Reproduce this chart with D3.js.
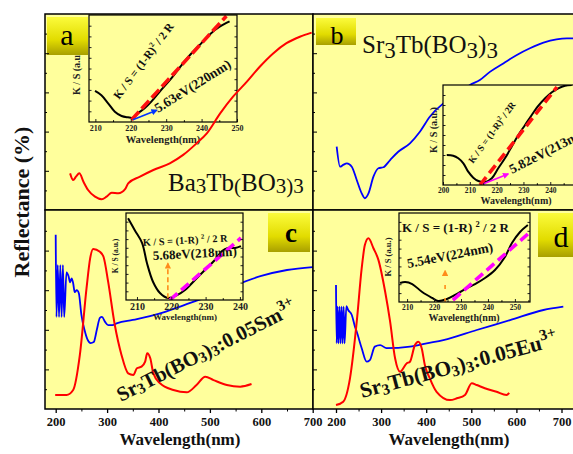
<!DOCTYPE html>
<html>
<head>
<meta charset="utf-8">
<script src="https://cdn.jsdelivr.net/npm/d3@7"></script>
<style>
  body { margin: 0; background: #fff; }
  svg { display: block; font-family: "Liberation Serif", "Times New Roman", serif; }
</style>
</head>
<body>
<svg id="chart" width="573" height="454"></svg>
<script>
// Main reflectance curves (wavelength nm / reflectance %).
var aRedNm = [228, 234, 239.5, 246, 254, 263, 276.5, 289.5, 299, 309, 322, 335, 341, 364, 390, 422, 448, 474, 494, 520, 545, 572, 597, 623, 649, 675, 698];
var aRedR = [18.7, 15.3, 17, 18.7, 14.4, 10.2, 6.8, 5.5, 6.8, 8.8, 8.5, 10.6, 13.6, 17, 20.4, 23.8, 28.1, 34, 39.1, 49.3, 57.8, 65.5, 73.1, 79.9, 85.1, 88.4, 90.5];

var bBlueNm = [201.5, 209, 216, 224, 235, 246, 257, 264, 272, 283, 294, 305, 320, 338, 364, 386, 408, 438, 468, 497, 519, 542, 571, 601, 630, 660, 689, 712, 726];
var bBlueR = [32.3, 22.1, 23, 23.8, 22.1, 15.3, 8.5, 6, 8.5, 17, 21.3, 21.8, 25.5, 29.7, 34, 39.9, 47.6, 54.4, 58.7, 63.8, 66.3, 70.6, 74.8, 79.1, 82.5, 85.4, 87.1, 87.6, 87.6];

var cBlueNm = [200, 201.5, 204, 206.5, 209, 211.5, 214, 216.5, 221, 225, 228, 231, 234, 237, 241, 245, 250, 256, 262, 268, 274, 280, 286, 290, 296, 302, 310, 320, 350, 400, 450, 500, 550, 600, 650, 700];
var cBlueR = [88, 46.5, 72.7, 46.5, 72.7, 46.5, 72.7, 46.5, 69, 67, 64, 66, 63.5, 59, 60, 58.5, 47.5, 40, 35, 33.3, 33.8, 40, 46, 46.5, 44, 42.4, 42.4, 43.4, 45, 48, 52.5, 57.1, 62.6, 67.2, 70.2, 71.7];
var cRedNm = [199, 221, 234, 247, 260, 267, 273, 286, 293, 302, 315, 328, 341, 351, 358, 367, 374, 378, 384, 390, 403, 429, 455, 474, 491, 507, 533, 559, 581];
var cRedR = [7.1, 7.1, 9.6, 27.3, 61, 76.1, 80.8, 79.4, 76.9, 64.3, 42.4, 27.3, 18, 17.2, 20.6, 21.4, 23.9, 28.1, 25.6, 18, 13, 9.6, 8.4, 12.1, 16.3, 14.6, 12.1, 11.3, 12.6];

var dBlueNm = [200, 201.5, 203.5, 205.5, 208, 210, 212.5, 214.5, 217, 219, 223, 227, 235, 242, 246, 257, 268, 275, 286, 298, 312, 364, 401, 438, 512, 586, 660, 704];
var dBlueR = [62.6, 33.2, 51.7, 33.2, 51.7, 33.2, 51.7, 33.2, 51.7, 33.2, 52, 50, 47.5, 41.6, 39, 30.7, 23.9, 24.7, 31.5, 32.3, 30.7, 31.5, 33.2, 34.8, 39.9, 44.9, 50, 51.7];
var dRedNm = [200, 216, 231, 246, 257, 264, 272, 283, 294, 309, 320, 331, 342, 357, 364, 375, 382.5, 390, 397, 408, 423, 453, 468, 486, 501, 512, 530, 556, 578, 584];
var dRedR = [2, 3.7, 15.5, 44.1, 71.1, 82.8, 86.2, 81.2, 75.3, 59.2, 44.1, 25.6, 18.8, 23.1, 23.9, 32.3, 34, 30.7, 22.2, 15.5, 8.7, 4.5, 5.4, 7.1, 13, 12.1, 10.5, 8.7, 7.1, 8.2];

// Inset K/S curves and linear fits.
var aKsNm = [209.9, 211.7, 213.6, 215.5, 217.4, 219.2, 220.6, 222, 223.9, 225.8, 228.6, 231.5, 234.3, 237.1, 239.9, 242.7, 245.1, 247.9];
var aKs = [0.29, 0.25, 0.175, 0.096, 0.056, 0.044, 0.04, 0.081, 0.128, 0.19, 0.3, 0.41, 0.53, 0.64, 0.735, 0.83, 0.89, 0.94];
var aFitNm = [220.2, 247], aFitKs = [0.02, 0.99];

var bKsNm = [201.4, 203.8, 205.7, 207.6, 209.4, 211.3, 213.2, 215.7, 218.2, 220.6, 223.1, 225.6, 228.1, 230.6, 233.1, 235.6, 238.1, 240.6, 243, 245.5, 248];
var bKs = [0.3, 0.293, 0.267, 0.217, 0.133, 0.073, 0.04, 0.027, 0.067, 0.167, 0.267, 0.383, 0.5, 0.6, 0.7, 0.793, 0.867, 0.927, 0.967, 0.993, 1];
var bFitNm = [213.8, 242.5], bFitKs = [0, 0.98];

var cKsNm = [207.4, 209.4, 211.5, 212.9, 214.7, 216.7, 219, 221.7, 224, 226.9, 229.8, 232.7, 234.8, 236.5, 238.6, 240.3];
var cKs = [0.94, 0.8, 0.655, 0.425, 0.207, 0.08, 0.023, 0.057, 0.115, 0.23, 0.345, 0.46, 0.563, 0.598, 0.598, 0.62];
var cFitNm = [219.6, 240.3], cFitKs = [0, 0.713];

var dKsNm = [207.4, 209.3, 211.9, 215.6, 219.3, 221.5, 224.8, 227.8, 231.5, 235.2, 238.9, 242.6, 246.3, 248.9, 251.9, 254.8];
var dKs = [0.213, 0.225, 0.202, 0.112, 0.045, 0.011, 0.034, 0.079, 0.146, 0.202, 0.27, 0.36, 0.506, 0.663, 0.787, 0.865];
var dFitNm = [227, 254.8], dFitKs = [0.022, 0.764];

// Tick labels.
var mainTicks = [200, 300, 400, 500, 600, 700];
var mainMinor = [250, 350, 450, 550, 650];
var aTicks = [210, 220, 230, 240, 250];
var bTicks = [200, 210, 220, 230, 240];
var cTicks = [210, 220, 230, 240];
var dTicks = [210, 220, 230, 240, 250];

var YELLOW = '#ffff9c';
var svg = d3.select('#chart');
var defs = svg.append('defs');

// Olive-yellow gradient of the panel tags.
var grad = defs.append('linearGradient')
  .attr('id', 'tag')
  .attr('x1', 0).attr('y1', 0)
  .attr('x2', 0).attr('y2', 1);
grad.append('stop').attr('offset', '0%').attr('stop-color', '#fbfb3c');
grad.append('stop').attr('offset', '60%').attr('stop-color', '#e2dc00');
grad.append('stop').attr('offset', '100%').attr('stop-color', '#a89f00');

function marker(id, color) {
  defs.append('marker')
    .attr('id', id)
    .attr('viewBox', '0 0 10 10')
    .attr('refX', 8).attr('refY', 5)
    .attr('markerWidth', 4).attr('markerHeight', 4)
    .attr('markerUnits', 'strokeWidth')
    .attr('orient', 'auto')
    .append('path')
    .attr('d', 'M0,0 L10,5 L0,10 z')
    .attr('fill', color);
}
marker('arBlue', '#0033ff');
marker('arPink', '#ff00ff');
marker('arOrange', '#ff8c1a');

// Scales of the four panels.
var xAC = d3.scaleLinear().domain([200, 700]).range([55.7, 312.7]);
var xBD = d3.scaleLinear().domain([200, 700]).range([336, 561.5]);
var yTop = d3.scaleLinear().domain([0, 100]).range([210, 14]);
var yBot = d3.scaleLinear().domain([0, 100]).range([409, 211]);

var panels = {
  a: { x0: 45, x1: 313, y0: 14, y1: 210, x: xAC, y: yTop },
  b: { x0: 313, x1: 575, y0: 14, y1: 210, x: xBD, y: yTop },
  c: { x0: 45, x1: 313, y0: 210, y1: 409, x: xAC, y: yBot },
  d: { x0: 313, x1: 575, y0: 210, y1: 409, x: xBD, y: yBot }
};

function rows(xs, ys) {
  return xs.map(function (v, i) { return [v, ys[i]]; });
}

function curve(g, p, xs, ys, color, width) {
  var line = d3.line()
    .x(function (d) { return p.x(d[0]); })
    .y(function (d) { return p.y(d[1]); })
    .curve(d3.curveMonotoneX);
  g.append('path')
    .attr('d', line(rows(xs, ys)))
    .attr('fill', 'none')
    .attr('stroke', color)
    .attr('stroke-width', width || 2)
    .attr('stroke-linejoin', 'round')
    .attr('clip-path', 'url(#clip-' + p.key + ')');
}

// Text with sub / superscript parts: [text, 'sub'|'sup'|null].
function formula(g, x, y, angle, parts, size, small, shift, bold) {
  var t = g.append('text')
    .attr('transform', 'translate(' + x + ',' + y + ') rotate(' + angle + ')')
    .attr('font-size', size)
    .attr('font-weight', bold ? 'bold' : 'normal')
    .attr('fill', '#111');
  var cur = 0;
  parts.forEach(function (part) {
    var off = part[1] === 'sub' ? shift : part[1] === 'sup' ? -size * 0.42 : 0;
    t.append('tspan')
      .attr('dy', off - cur)
      .attr('font-size', part[1] ? small : size)
      .text(part[0]);
    cur = off;
  });
  return t;
}

function tag(g, x, y, w, h, letter, tx, ty, size, bold) {
  g.append('rect')
    .attr('x', x).attr('y', y)
    .attr('width', w).attr('height', h)
    .attr('fill', 'url(#tag)');
  g.append('text')
    .attr('x', tx).attr('y', ty)
    .attr('text-anchor', 'middle')
    .attr('font-size', size)
    .attr('font-weight', bold ? 'bold' : 'normal')
    .text(letter);
}

// Background and clip for each panel.
Object.keys(panels).forEach(function (k) {
  var p = panels[k];
  p.key = k;
  defs.append('clipPath').attr('id', 'clip-' + k)
    .append('rect')
    .attr('x', p.x0).attr('y', p.y0)
    .attr('width', p.x1 - p.x0).attr('height', p.y1 - p.y0);
  p.g = svg.append('g');
  p.g.append('rect')
    .attr('x', p.x0).attr('y', p.y0)
    .attr('width', p.x1 - p.x0).attr('height', p.y1 - p.y0)
    .attr('fill', YELLOW);
});

// Inset with K/S curve.
function inset(g, o) {
  var x = d3.scaleLinear().domain(o.domain).range([o.x0, o.x1]);
  var y = d3.scaleLinear().domain([0, 1]).range([o.y1, o.y0]);
  var id = 'ins-' + o.key;
  defs.append('clipPath').attr('id', id)
    .append('rect')
    .attr('x', o.x0).attr('y', o.y0)
    .attr('width', o.x1 - o.x0).attr('height', o.y1 - o.y0);

  g.append('rect')
    .attr('x', o.x0).attr('y', o.y0)
    .attr('width', o.x1 - o.x0).attr('height', o.y1 - o.y0)
    .attr('fill', YELLOW);

  var line = d3.line()
    .x(function (d) { return x(d[0]); })
    .y(function (d) { return y(d[1]); });

  g.append('path')
    .attr('d', line.curve(d3.curveCatmullRom)(rows(o.nm, o.ks)))
    .attr('fill', 'none')
    .attr('stroke', '#000')
    .attr('stroke-width', 2)
    .attr('clip-path', 'url(#' + id + ')');

  g.append('path')
    .attr('d', line.curve(d3.curveLinear)(rows(o.fitNm, o.fitKs)))
    .attr('stroke', o.fitColor)
    .attr('stroke-width', 3.6)
    .attr('stroke-dasharray', o.dash)
    .attr('clip-path', 'url(#' + id + ')');

  // Onset arrow.
  g.append('line')
    .attr('x1', x(o.arrow[0])).attr('y1', y(o.arrow[1]))
    .attr('x2', x(o.arrow[2])).attr('y2', y(o.arrow[3]))
    .attr('stroke', o.arrowColor)
    .attr('stroke-width', 1.6)
    .attr('stroke-dasharray', o.arrowDash || null)
    .attr('marker-end', 'url(#' + o.arrowId + ')');

  // Axes: ticks inside the box.
  var bottom = g.append('g')
    .attr('transform', 'translate(0,' + o.y1 + ')')
    .call(d3.axisBottom(x).tickValues(o.ticks).tickSize(-3).tickPadding(3));
  bottom.select('.domain').remove();
  bottom.selectAll('text')
    .attr('font-family', 'Liberation Serif')
    .attr('font-weight', 'bold')
    .attr('font-size', o.tickSize)
    .attr('fill', '#222');
  bottom.selectAll('line').attr('stroke', '#222');

  var minor = o.ticks.map(function (v) { return v + 5; })
    .filter(function (v) { return v < o.domain[1]; });
  g.append('g')
    .attr('transform', 'translate(0,' + o.y1 + ')')
    .call(d3.axisBottom(x).tickValues(minor).tickSize(-1.8).tickFormat(''))
    .select('.domain').remove();

  var ks = d3.range(0.1, 1, 0.1);
  [o.x0, o.x1].forEach(function (px, i) {
    var ax = g.append('g')
      .attr('transform', 'translate(' + px + ',0)')
      .call((i ? d3.axisLeft(y) : d3.axisRight(y)).tickValues(ks).tickSize(2.5).tickFormat(''));
    ax.select('.domain').remove();
    ax.selectAll('line').attr('stroke', '#222');
  });

  g.append('rect')
    .attr('x', o.x0).attr('y', o.y0)
    .attr('width', o.x1 - o.x0).attr('height', o.y1 - o.y0)
    .attr('fill', 'none')
    .attr('stroke', '#000')
    .attr('stroke-width', 1.2);

  g.append('text')
    .attr('x', o.xl[0]).attr('y', o.xl[1])
    .attr('text-anchor', 'middle')
    .attr('font-size', o.xl[2])
    .attr('font-weight', 'bold')
    .attr('fill', '#222')
    .text('Wavelength(nm)');

  g.append('text')
    .attr('transform', 'translate(' + o.yl[0] + ',' + o.yl[1] + ') rotate(-90)')
    .attr('text-anchor', 'middle')
    .attr('font-size', o.yl[2])
    .attr('font-weight', 'bold')
    .attr('fill', '#222')
    .text('K / S (a.u.)');

  var f = o.ksLabel;
  formula(g, f[0], f[1], f[2], [['K / S = (1-R)' + f[4], null], ['2', 'sup'], [' / 2' + f[5], null]], f[3], f[3] * 0.65, 0, true);
  var e = o.evLabel;
  g.append('text')
    .attr('transform', 'translate(' + e[0] + ',' + e[1] + ') rotate(' + e[2] + ')')
    .attr('font-size', e[3])
    .attr('font-weight', 'bold')
    .attr('fill', '#111')
    .text(e[4]);
}

// Panel a.
var pa = panels.a;
inset(pa.g, {
  key: 'a', x0: 89, x1: 237, y0: 15, y1: 122, domain: [208.2, 250],
  nm: aKsNm, ks: aKs, fitNm: aFitNm, fitKs: aFitKs, fitColor: '#ff1010', dash: '11,4',
  arrow: [220.6, 0.02, 227.3, 0.11], arrowColor: '#0033ff', arrowId: 'arBlue',
  ticks: aTicks, tickSize: 8,
  xl: [163, 143, 10.5], yl: [80, 72, 10],
  ksLabel: [119, 100, -53, 11.5, '', ' R'],
  evLabel: [158, 113, -32, 13.5, '5.63eV(220nm)']
});
curve(pa.g, pa, aRedNm, aRedR, '#ff0000', 2);
tag(pa.g, 47, 17, 41, 38, 'a', 67, 45, 30);
formula(pa.g, 168, 191, 0, [['Ba', null], ['3', 'sub'], ['Tb', null], ['(', 'sub'], ['BO', null], ['3', 'sub'], [')3', 'sub']], 25, 21, 2, false);

// Panel b.
var pb = panels.b;
curve(pb.g, pb, bBlueNm, bBlueR, '#0000ff', 1.8);
inset(pb.g, {
  key: 'b', x0: 443, x1: 576, y0: 85, y1: 185, domain: [200, 249.6],
  nm: bKsNm, ks: bKs, fitNm: bFitNm, fitKs: bFitKs, fitColor: '#ff1010', dash: '10,5',
  arrow: [214.9, 0.01, 224.3, 0.11], arrowColor: '#ff00ff', arrowId: 'arPink',
  ticks: bTicks, tickSize: 7.5,
  xl: [516, 204, 10], yl: [437, 130, 10],
  ksLabel: [473, 164, -54, 9.5, '', 'R'],
  evLabel: [512, 174, -27, 13.5, '5.82eV(213nm)']
});
tag(pb.g, 316, 18, 40, 27, 'b', 337, 44, 26);
formula(pb.g, 362, 53, 0, [['Sr', null], ['3', 'sub'], ['Tb(BO', null], ['3', 'sub'], [')', null], ['3', 'sub']], 25, 23, 5, false);

// Panel c.
var pc = panels.c;
curve(pc.g, pc, cBlueNm, cBlueR, '#0000ff', 1.8);
curve(pc.g, pc, cRedNm, cRedR, '#ff0000', 2);
inset(pc.g, {
  key: 'c', x0: 126, x1: 243, y0: 213, y1: 300, domain: [206.8, 240.9],
  nm: cKsNm, ks: cKs, fitNm: cFitNm, fitKs: cFitKs, fitColor: '#ff00ff', dash: '10,5',
  arrow: [219, 0.02, 219, 0.42], arrowColor: '#ff8c1a', arrowId: 'arOrange', arrowDash: '5,3',
  ticks: cTicks, tickSize: 10,
  xl: [185, 320, 9], yl: [118, 256, 7.5],
  ksLabel: [143, 246, -3, 10.3, ' ', ' R'],
  evLabel: [153, 260, -3, 13, '5.68eV(218nm)']
});
tag(pc.g, 268, 213, 42, 39, 'c', 291, 242, 27, true);
formula(pc.g, 121, 402, -27, [['Sr', null], ['3', 'sub'], ['Tb(BO', null], ['3', 'sub'], [')', null], ['3', 'sub'], [':0.05Sm', null], ['3+', 'sup']], 20.5, 15, 2, true);

// Panel d.
var pd = panels.d;
curve(pd.g, pd, dBlueNm, dBlueR, '#0000ff', 1.8);
curve(pd.g, pd, dRedNm, dRedR, '#ff0000', 2);
inset(pd.g, {
  key: 'd', x0: 399, x1: 530, y0: 213, y1: 302, domain: [207, 255.6],
  nm: dKsNm, ks: dKs, fitNm: dFitNm, fitKs: dFitKs, fitColor: '#ff00ff', dash: '10,5',
  arrow: [224.1, 0.0, 224.1, 0.35], arrowColor: '#ff8c1a', arrowId: 'arOrange', arrowDash: '4,9',
  ticks: dTicks, tickSize: 7.5,
  xl: [464, 321, 10], yl: [391, 257, 8.5],
  ksLabel: [402, 232, 0, 13, ' ', ' R'],
  evLabel: [408, 268, -11, 13.5, '5.54eV(224nm)']
});
tag(pd.g, 538, 213, 40, 44, 'd', 561, 247, 30);
formula(pd.g, 362, 398, -15, [['Sr', null], ['3', 'sub'], ['Tb(BO', null], ['3', 'sub'], [')', null], ['3', 'sub'], [':0.05Eu', null], ['3+', 'sup']], 21.5, 15.5, 3, true);

// Frames, left ticks and bottom axes.
Object.keys(panels).forEach(function (k) {
  var p = panels[k];
  [[[20, 40, 60, 80], 4], [[10, 30, 50, 70, 90], 2]].forEach(function (t) {
    var ax = p.g.append('g')
      .attr('transform', 'translate(' + p.x0 + ',0)')
      .call(d3.axisRight(p.y).tickValues(t[0]).tickSize(t[1]).tickFormat(''));
    ax.select('.domain').remove();
  });
  p.g.append('rect')
    .attr('x', p.x0).attr('y', p.y0)
    .attr('width', p.x1 - p.x0).attr('height', p.y1 - p.y0)
    .attr('fill', 'none')
    .attr('stroke', '#000')
    .attr('stroke-width', 1.5);
});

['c', 'd'].forEach(function (k) {
  var p = panels[k];
  var ax = svg.append('g')
    .attr('transform', 'translate(0,' + p.y1 + ')')
    .call(d3.axisBottom(p.x).tickValues(mainTicks).tickSize(4).tickPadding(4));
  ax.select('.domain').remove();
  ax.selectAll('line').attr('stroke-width', 1.3);
  ax.selectAll('text')
    .attr('font-family', 'Liberation Serif')
    .attr('font-weight', 'bold')
    .attr('font-size', 12.5)
    .attr('fill', '#111');
  svg.append('g')
    .attr('transform', 'translate(0,' + p.y1 + ')')
    .call(d3.axisBottom(p.x).tickValues(mainMinor).tickSize(2.5).tickFormat(''))
    .select('.domain').remove();
});

// Axis titles.
svg.append('text')
  .attr('x', 180).attr('y', 445)
  .attr('text-anchor', 'middle')
  .attr('font-size', 17)
  .attr('font-weight', 'bold')
  .attr('fill', '#111')
  .text('Wavelength(nm)');
svg.append('text')
  .attr('x', 449).attr('y', 445)
  .attr('text-anchor', 'middle')
  .attr('font-size', 17)
  .attr('font-weight', 'bold')
  .attr('fill', '#111')
  .text('Wavelength(nm)');
svg.append('text')
  .attr('transform', 'translate(29,202) rotate(-90)')
  .attr('text-anchor', 'middle')
  .attr('font-size', 22)
  .attr('font-weight', 'bold')
  .attr('fill', '#111')
  .text('Reflectance (%)');
</script>
</body>
</html>
